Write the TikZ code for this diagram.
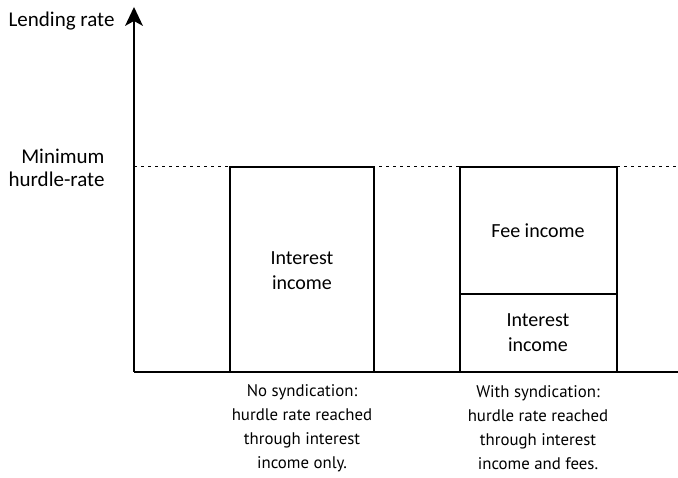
\documentclass[tikz,border=0pt]{standalone}
\usepackage{fontspec}
\setmainfont{Carlito}
\newfontfamily\capfont{PT Sans}
\usetikzlibrary{arrows.meta}
\begin{document}
\begin{tikzpicture}[x=1pt,y=-1pt,
  axis/.style={line width=1.8pt},
  bar/.style={draw, line width=1.3pt},
  hurdle/.style={line width=1pt, dash pattern=on 3pt off 4pt},
  boxtext/.style={align=center, font=\fontsize{20}{25}\selectfont},
  caption/.style={align=center, font=\capfont\fontsize{16.8}{24}\selectfont},
  axislabel/.style={align=right, font=\fontsize{21}{23}\selectfont}]
\useasboundingbox (0,0) rectangle (678,478);
% axes
\coordinate (origin) at (134,372);
\coordinate (ytop) at (134,7);
\coordinate (xend) at (678,372);
\coordinate (hl) at (134,167);
\coordinate (hr) at (678,167);
\draw[hurdle] (hl) -- (hr);
\draw[axis] (origin) -- (xend);
\draw[axis] (origin) -- ([yshift=-14pt]ytop);
% arrowhead of the rate axis
\fill (ytop) -- ++(-9,19) -- ++(9,-5) -- ++(9,5) -- cycle;
% bars
\draw[bar, fill=white] (230,167) rectangle (374,372);
\draw[bar, fill=white] (460,167) rectangle (617,372);
\draw[bar] (460,294) -- (617,294);
% labels
\node[axislabel, anchor=east] (lend) at (118,21) {Lending rate};
\node[axislabel, anchor=east] (hurdlelbl) at (108,168) {Minimum\\hurdle-rate};
\node[boxtext] (int1) at (302,271) {Interest\\income};
\node[boxtext] (fee) at (538,231) {Fee income};
\node[boxtext] (int2) at (538,333) {Interest\\income};
\node[caption] (cap1) at (302,428) {No syndication:\\hurdle rate reached\\through interest\\income only.};
\node[caption] (cap2) at (538,428) {With syndication:\\hurdle rate reached\\through interest\\income and fees.};
\end{tikzpicture}
\end{document}
